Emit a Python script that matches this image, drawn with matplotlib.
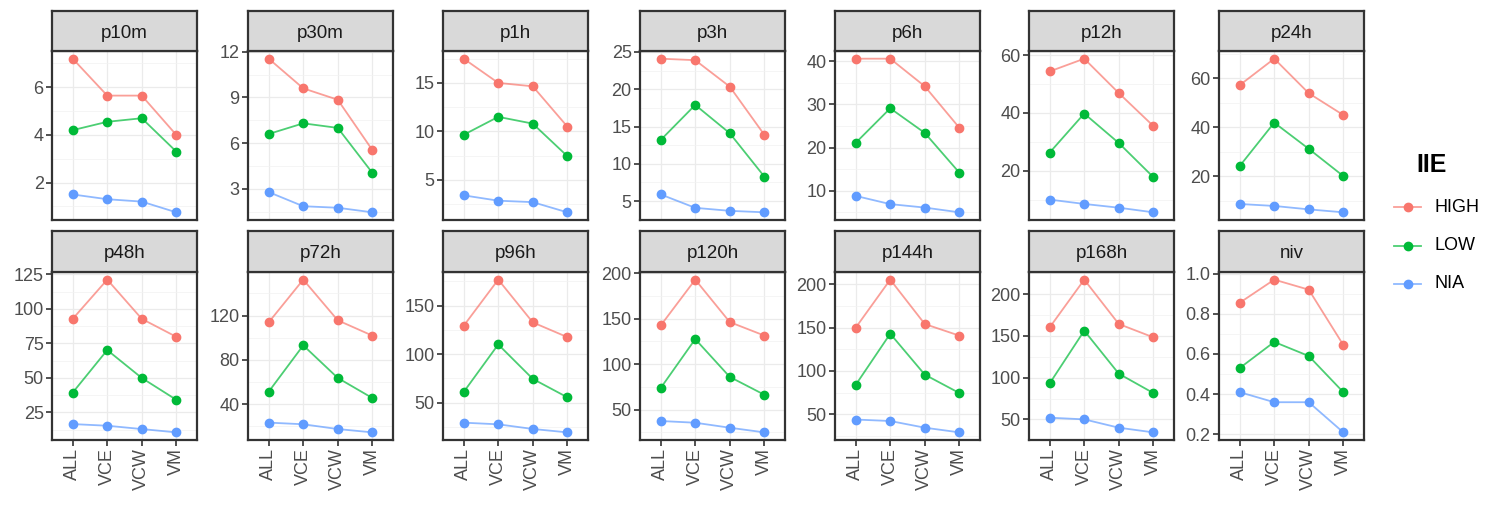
import matplotlib.pyplot as plt
from matplotlib.ticker import AutoMinorLocator

plt.rcParams['font.family'] = ['Liberation Sans', 'DejaVu Sans']

W, H = 1494, 507

sites = ['ALL', 'VCE', 'VCW', 'VM']
panels = ['p10m', 'p30m', 'p1h', 'p3h', 'p6h', 'p12h', 'p24h',
          'p48h', 'p72h', 'p96h', 'p120h', 'p144h', 'p168h', 'niv']
groups = ['HIGH', 'LOW', 'NIA']
colors = {'HIGH': '#F8766D', 'LOW': '#00BA38', 'NIA': '#619CFF'}

# values: ALL, VCE, VCW, VM
high = {
    'p10m': [7.2, 5.65, 5.65, 4.0],
    'p30m': [11.55, 9.6, 8.85, 5.55],
    'p1h': [17.5, 15.0, 14.65, 10.5],
    'p3h': [24.1, 23.9, 20.35, 13.9],
    'p6h': [40.6, 40.6, 34.2, 24.6],
    'p12h': [54.4, 58.8, 46.9, 35.5],
    'p24h': [57.1, 67.9, 53.8, 44.9],
    'p48h': [92.8, 121.2, 92.8, 79.8],
    'p72h': [114, 152.5, 115.8, 102],
    'p96h': [129.3, 176.9, 132.8, 117.6],
    'p120h': [142.6, 193, 146.3, 131.5],
    'p144h': [150, 205.4, 154.2, 140.8],
    'p168h': [160.4, 217.6, 164.4, 148.4],
    'niv': [0.855, 0.97, 0.92, 0.645],
}
low = {
    'p10m': [4.2, 4.55, 4.7, 3.3],
    'p30m': [6.6, 7.3, 7.0, 4.05],
    'p1h': [9.65, 11.5, 10.8, 7.45],
    'p3h': [13.2, 17.9, 14.1, 8.3],
    'p6h': [21.1, 29.1, 23.4, 14.2],
    'p12h': [26.3, 39.8, 29.6, 17.8],
    'p24h': [24.1, 41.8, 31.1, 20.0],
    'p48h': [39.4, 70.2, 50.0, 34.2],
    'p72h': [51.4, 93.2, 63.8, 45.7],
    'p96h': [61, 110, 74.5, 55.5],
    'p120h': [73.8, 127.6, 86, 66.4],
    'p144h': [84, 143, 95.8, 74.6],
    'p168h': [93.2, 156.4, 104.8, 81.6],
    'niv': [0.53, 0.66, 0.59, 0.41],
}
nia = {
    'p10m': [1.5, 1.3, 1.2, 0.75],
    'p30m': [2.78, 1.85, 1.75, 1.45],
    'p1h': [3.4, 2.85, 2.7, 1.65],
    'p3h': [5.9, 4.1, 3.7, 3.5],
    'p6h': [8.8, 6.9, 6.1, 5.0],
    'p12h': [10.0, 8.5, 7.2, 5.6],
    'p24h': [8.6, 7.8, 6.4, 5.2],
    'p48h': [16.6, 15.4, 13.0, 10.6],
    'p72h': [23.5, 22, 17.7, 14.7],
    'p96h': [29.3, 27.6, 22.8, 19.3],
    'p120h': [37.5, 35.6, 30.1, 25],
    'p144h': [44, 42.3, 34.6, 29.2],
    'p168h': [52, 50, 40, 34.4],
    'niv': [0.41, 0.36, 0.36, 0.21],
}
yticks = {
    'p10m': [2, 4, 6],
    'p30m': [3, 6, 9, 12],
    'p1h': [5, 10, 15],
    'p3h': [5, 10, 15, 20, 25],
    'p6h': [10, 20, 30, 40],
    'p12h': [20, 40, 60],
    'p24h': [20, 40, 60],
    'p48h': [25, 50, 75, 100, 125],
    'p72h': [40, 80, 120],
    'p96h': [50, 100, 150],
    'p120h': [50, 100, 150, 200],
    'p144h': [50, 100, 150, 200],
    'p168h': [50, 100, 150, 200],
    'niv': [0.2, 0.4, 0.6, 0.8, 1.0],
}
series = {'HIGH': high, 'LOW': low, 'NIA': nia}

fig = plt.figure(figsize=(W / 100, H / 100), dpi=100)


def px_axes(x0, y0, w, h):
    return fig.add_axes([x0 / W, 1 - (y0 + h) / H, w / W, h / H])


col_x = [52, 248, 443, 640, 835, 1029, 1219]
panel_w = 145
rows = [(11, 51, 220), (231, 272, 440)]  # strip top, panel top, panel bottom

for i, name in enumerate(panels):
    r, c = divmod(i, 7)
    s_top, p_top, p_bot = rows[r]
    x0 = col_x[c]

    ax = px_axes(x0, p_top, panel_w, p_bot - p_top)
    xs = range(len(sites))
    for g in groups:
        vals = series[g][name]
        ax.plot(xs, vals, color=colors[g], lw=1.3, alpha=0.7, zorder=3)
        ax.plot(xs, vals, 'o', color=colors[g], ms=6, zorder=4)

    ax.set_xlim(-0.6, 3.6)
    ax.margins(y=0.05)
    ax.set_yticks(yticks[name])
    ax.yaxis.set_minor_locator(AutoMinorLocator(2))
    ax.set_xticks(list(xs))
    ax.grid(True, which='major', color='#EBEBEB', lw=0.9, zorder=0)
    ax.grid(True, which='minor', color='#F2F2F2', lw=0.5, zorder=0)
    ax.set_axisbelow(True)
    for sp in ax.spines.values():
        sp.set_color('#333333')
        sp.set_linewidth(1.6)
    ax.tick_params(which='major', length=4, width=1.2, color='#333333',
                   labelsize=13, labelcolor='#4D4D4D', pad=2)
    ax.tick_params(which='minor', length=0)
    if r == 1:
        ax.set_xticklabels(sites, rotation=90)
    else:
        ax.set_xticklabels([])
        ax.tick_params(axis='x', length=0)

    # facet strip
    st = px_axes(x0, s_top, panel_w, p_top - s_top)
    st.set_facecolor('#D9D9D9')
    st.set_xticks([])
    st.set_yticks([])
    for sp in st.spines.values():
        sp.set_color('#333333')
        sp.set_linewidth(1.6)
    st.text(0.5, 0.45, name, ha='center', va='center', fontsize=13.5,
            color='#1A1A1A', transform=st.transAxes)

# legend
lg = px_axes(1380, 140, 114, 170)
lg.set_xlim(1380, 1494)
lg.set_ylim(310, 140)
lg.axis('off')
lg.text(1432, 165, 'IIE', ha='center', va='center', fontsize=18,
        fontweight='bold', color='black')
for k, g in enumerate(groups):
    yy = 207 + k * 38.5
    lg.plot([1394, 1421], [yy, yy], color=colors[g], lw=1.3, alpha=0.7)
    lg.plot([1407.5], [yy], 'o', color=colors[g], ms=6)
    lg.text(1435, yy, g, ha='left', va='center', fontsize=13, color='black')

fig.savefig('out.png', dpi=100)
